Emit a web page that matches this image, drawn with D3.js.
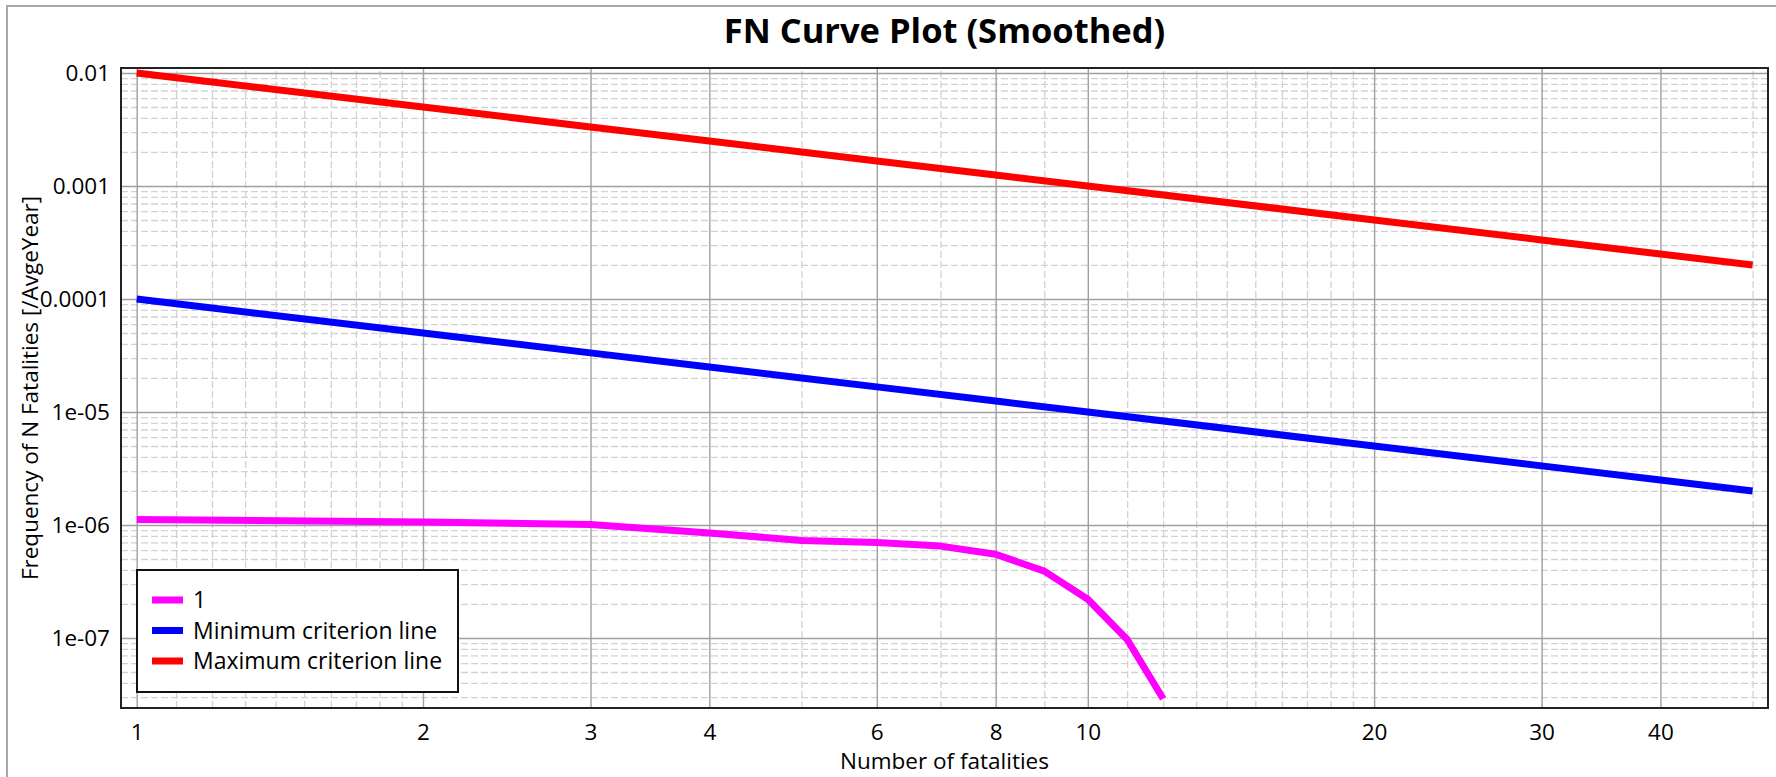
<!DOCTYPE html>
<html>
<head>
<meta charset="utf-8">
<script src="https://cdn.jsdelivr.net/npm/d3@7/dist/d3.min.js"></script>
<style>
  html, body { margin: 0; padding: 0; background: #fff; }
  svg { display: block; }
  text { font-family: "Open Sans", "Noto Sans", sans-serif; fill: #000; }
</style>
</head>
<body>
<svg id="chart" width="1776" height="777"></svg>
<script>
// ---- data ----
const fatalities = [1, 2, 3, 4, 5, 6, 7, 8, 9, 10, 11, 12];
const series1 = [1.12e-6, 1.06e-6, 1.01e-6, 8.5e-7, 7.3e-7, 7.0e-7, 6.5e-7, 5.5e-7, 3.9e-7, 2.2e-7, 9.7e-8, 2.9e-8];
const criterionN = [1, 2, 3, 4, 5, 6, 8, 10, 20, 30, 40, 50];
const minCriterion = [1e-4, 5e-5, 3.333e-5, 2.5e-5, 2e-5, 1.667e-5, 1.25e-5, 1e-5, 5e-6, 3.333e-6, 2.5e-6, 2e-6];
const maxCriterion = [1e-2, 5e-3, 3.333e-3, 2.5e-3, 2e-3, 1.667e-3, 1.25e-3, 1e-3, 5e-4, 3.333e-4, 2.5e-4, 2e-4];
const seriesNames = ["1", "Minimum criterion line", "Maximum criterion line"];
const seriesColors = ["#ff00ff", "#0000ff", "#ff0000"];
const xTickValues = [1, 2, 3, 4, 6, 8, 10, 20, 30, 40];
const xTickLabels = ["1", "2", "3", "4", "6", "8", "10", "20", "30", "40"];
const xMinorTicks = [1.1, 1.2, 1.3, 1.4, 1.5, 1.6, 1.7, 1.8, 1.9, 5, 7, 9, 11, 12, 13, 14, 15, 16, 17, 18, 19, 50];
const yTickValues = [1e-2, 1e-3, 1e-4, 1e-5, 1e-6, 1e-7];
const yTickLabels = ["0.01", "0.001", "0.0001", "1e-05", "1e-06", "1e-07"];
const yMinorMultipliers = [2, 3, 4, 5, 6, 7, 8, 9];
const xDomain = [0.9627, 51.9];
const yDomain = [2.40e-8, 0.01107];
const title = "FN Curve Plot (Smoothed)";
const xTitle = "Number of fatalities";
const yTitle = "Frequency of N Fatalities [/AvgeYear]";

// ---- layout ----
const svg = d3.select("#chart");
const L = 121, R = 1768, T = 68, B = 708;

svg.append("rect").attr("x", 0).attr("y", 0).attr("width", 1776).attr("height", 777).attr("fill", "#fff");
svg.append("rect").attr("x", 7).attr("y", 6).attr("width", 1900).attr("height", 900)
  .attr("fill", "none").attr("stroke", "#a8a8a8").attr("stroke-width", 2);

const x = d3.scaleLog().domain(xDomain).range([L, R]);
const y = d3.scaleLog().domain(yDomain).range([B, T]);

const yMinor = [];
for (let e = -8; e <= -2; e++) {
  yMinorMultipliers.forEach(m => {
    const v = m * Math.pow(10, e);
    if (v > yDomain[0] && v < yDomain[1]) yMinor.push(v);
  });
}

// minor grid
const gMinorX = svg.append("g").attr("transform", `translate(0,${B})`)
  .call(d3.axisBottom(x).tickValues(xMinorTicks).tickSize(-(B - T)).tickFormat(""));
const gMinorY = svg.append("g").attr("transform", `translate(${L},0)`)
  .call(d3.axisLeft(y).tickValues(yMinor).tickSize(-(R - L)).tickFormat(""));
[gMinorX, gMinorY].forEach(g => {
  g.select(".domain").remove();
  g.selectAll(".tick line").attr("stroke", "#d2d2d2").attr("stroke-width", 1.3).attr("stroke-dasharray", "7,3");
});

// major grid
const gMajorX = svg.append("g").attr("transform", `translate(0,${B})`)
  .call(d3.axisBottom(x).tickValues(xTickValues).tickSize(-(B - T)).tickFormat(""));
const gMajorY = svg.append("g").attr("transform", `translate(${L},0)`)
  .call(d3.axisLeft(y).tickValues(yTickValues).tickSize(-(R - L)).tickFormat(""));
[gMajorX, gMajorY].forEach(g => {
  g.select(".domain").remove();
  g.selectAll(".tick line").attr("stroke", "#a0a0a0").attr("stroke-width", 1.4);
});

// tick labels
const gxLab = svg.append("g").attr("transform", `translate(0,${B})`)
  .call(d3.axisBottom(x).tickValues(xTickValues).tickSize(0).tickPadding(16)
    .tickFormat((d, i) => xTickLabels[i]));
gxLab.select(".domain").remove();
gxLab.selectAll("text").style("font-size", "22.5px").attr("fill", "#000")
  .style("font-family", "'Open Sans', sans-serif");

const gyLab = svg.append("g").attr("transform", `translate(${L},0)`)
  .call(d3.axisLeft(y).tickValues(yTickValues).tickSize(0).tickPadding(11)
    .tickFormat((d, i) => yTickLabels[i]));
gyLab.select(".domain").remove();
gyLab.selectAll("text").style("font-size", "22.5px").attr("fill", "#000")
  .style("font-family", "'Open Sans', sans-serif");

// clip
svg.append("clipPath").attr("id", "clip").append("rect")
  .attr("x", L).attr("y", T).attr("width", R - L).attr("height", B - T);

const line = d3.line().x(d => x(d[0])).y(d => y(d[1]));
const plot = svg.append("g").attr("clip-path", "url(#clip)");

plot.append("path").datum(criterionN.map((n, i) => [n, maxCriterion[i]]))
  .attr("d", line).attr("fill", "none").attr("stroke", seriesColors[2]).attr("stroke-width", 7);
plot.append("path").datum(criterionN.map((n, i) => [n, minCriterion[i]]))
  .attr("d", line).attr("fill", "none").attr("stroke", seriesColors[1]).attr("stroke-width", 7);
plot.append("path").datum(fatalities.map((n, i) => [n, series1[i]]))
  .attr("d", line).attr("fill", "none").attr("stroke", seriesColors[0]).attr("stroke-width", 7)
  .attr("stroke-linejoin", "round");

// plot border
svg.append("rect").attr("x", L).attr("y", T).attr("width", R - L).attr("height", B - T)
  .attr("fill", "none").attr("stroke", "#222").attr("stroke-width", 2);

// title
svg.append("text").attr("x", (L + R) / 2).attr("y", 43).attr("text-anchor", "middle")
  .style("font-size", "34.5px").style("font-weight", "bold").text(title);

// axis titles
svg.append("text").attr("x", (L + R) / 2).attr("y", 769).attr("text-anchor", "middle")
  .style("font-size", "22.5px").text(xTitle);
svg.append("text").attr("transform", `translate(38,${(T + B) / 2}) rotate(-90)`)
  .attr("text-anchor", "middle").style("font-size", "22.5px").text(yTitle);

// legend
const lg = svg.append("g");
lg.append("rect").attr("x", 137).attr("y", 570).attr("width", 321).attr("height", 122)
  .attr("fill", "#fff").attr("stroke", "#111").attr("stroke-width", 2);
seriesNames.forEach((name, i) => {
  const cy = 600 + i * 30.5;
  lg.append("line").attr("x1", 152).attr("x2", 183).attr("y1", cy).attr("y2", cy)
    .attr("stroke", seriesColors[i]).attr("stroke-width", 7);
  lg.append("text").attr("x", 193).attr("y", cy).attr("dy", "0.35em")
    .style("font-size", "23px").text(name);
});
</script>
</body>
</html>
